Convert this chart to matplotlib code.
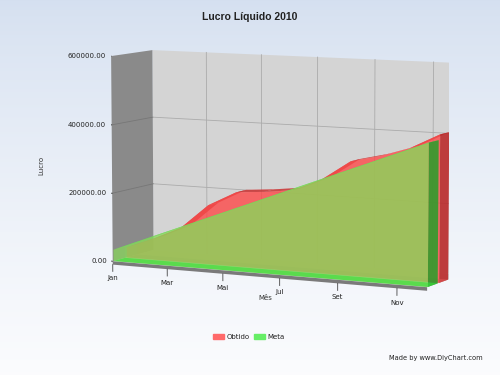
import numpy as np
import matplotlib.pyplot as plt
from mpl_toolkits.mplot3d.art3d import Poly3DCollection
from mpl_toolkits.mplot3d import proj3d

# dados
meses = ['Jan', 'Fev', 'Mar', 'Abr', 'Mai', 'Jun', 'Jul', 'Ago', 'Set', 'Out', 'Nov', 'Dez']
obtido = [30000, 62000, 100000, 172000, 215000, 222000, 232000, 268000, 325000, 345000, 372000, 415000]
meta = [33333, 66667, 100000, 133333, 166667, 200000, 233333, 266667, 300000, 333333, 366667, 400000]
tick_meses = ['Jan', 'Mar', 'Mai', 'Jul', 'Set', 'Nov']
valores_ticks = [0, 200000, 400000, 600000]

fig = plt.figure(figsize=(5, 3.75), dpi=100)

# fundo em degradê
bg = fig.add_axes([0, 0, 1, 1], zorder=-1)
grad = np.linspace(0, 1, 256) ** 0.8
top = np.array([0.835, 0.878, 0.941])
bot = np.array([0.985, 0.988, 0.995])
img = top[None, :] * (1 - grad[:, None]) + bot[None, :] * grad[:, None]
bg.imshow(img[:, None, :], aspect='auto', extent=[0, 1, 0, 1], origin='upper')
bg.axis('off')

ax = fig.add_axes([0.135, 0.1, 0.85, 0.9], projection='3d', computed_zorder=False)
ax.set_axis_off()
ax.patch.set_alpha(0)
n = len(meses)
xmax = n - 1
zmax = valores_ticks[-1]
ax.set_xlim(0, xmax)
ax.set_ylim(0, 1)
ax.set_zlim(0, zmax)
ax.set_box_aspect((11.7, 2.8, 7.0), zoom=1.2)
ax.set_proj_type('persp', focal_length=1.5)
ax.view_init(elev=7, azim=-63)


def poly(verts, fc, alpha=1.0, z=1):
    pc = Poly3DCollection([verts], facecolors=fc, edgecolors='none', linewidths=0, alpha=alpha)
    pc.set_zorder(z)
    ax.add_collection3d(pc)


# paredes
poly([(0, 1, 0), (xmax, 1, 0), (xmax, 1, zmax), (0, 1, zmax)], '#d4d4d4', z=1)
poly([(0, 0, 0), (0, 1, 0), (0, 1, zmax), (0, 0, zmax)], '#8a8a8a', z=1)
poly([(0, 0, 0), (xmax, 0, 0), (xmax, 1, 0), (0, 1, 0)], '#cdcdcd', z=1)
poly([(0, 0, -10000), (xmax, 0, -10000), (xmax, 0, 0), (0, 0, 0)], '#7a7a7a', z=1)

# grade
for i in range(2, n, 2):
    ax.plot([i, i], [1, 1], [0, zmax], color='#ababab', lw=0.6, zorder=2)
for v in valores_ticks[1:-1]:
    ax.plot([0, xmax], [1, 1], [v, v], color='#ababab', lw=0.6, zorder=2)
    ax.plot([0, 0], [0, 1], [v, v], color='#777777', lw=0.6, zorder=2)


def slab(vals, y0, y1, fc, topc, side, base, z):
    xs = list(range(n))
    front = [(x, y0, 0) for x in xs[::-1]] + [(x, y0, v) for x, v in zip(xs, vals)]
    back = [(x, y1, 0) for x in xs[::-1]] + [(x, y1, v) for x, v in zip(xs, vals)]
    poly(back, fc, 0.25, z)
    for i in range(n - 1):
        poly([(i, y0, vals[i]), (i + 1, y0, vals[i + 1]), (i + 1, y1, vals[i + 1]), (i, y1, vals[i])],
             topc, 0.85, z)
    poly([(xmax, y0, 0), (xmax, y1, 0), (xmax, y1, vals[-1]), (xmax, y0, vals[-1])], side, 0.85, z)
    poly(front, fc, 0.72, z)
    poly([(0, y0, 0), (xmax, y0, 0), (xmax, y1, 0), (0, y1, 0)], base, 0.6, z)


slab(obtido, 0.34, 0.6, '#ff4848', '#c83838', '#b82828', '#e05050', 4)
slab(meta, 0.02, 0.3, '#88d85a', '#58d858', '#2a9a2a', '#30e030', 5)

# eixos (textos em 2D a partir da projeção 3D)
M = ax.get_proj()


def txt(x, y, z, s, **kw):
    px, py, _ = proj3d.proj_transform(x, y, z, M)
    ax.text2D(px, py, s, transform=ax.transData, fontsize=5, color='#222222', zorder=7, **kw)


for i, lab in enumerate(meses):
    if lab in tick_meses:
        ax.plot([i, i], [0, 0], [-10000, -30000], color='#444444', lw=0.6, zorder=6)
        txt(i, 0, -50000, lab, ha='center', va='center')
for v in valores_ticks:
    ax.plot([0, -0.15], [0, 0], [v, v], color='#444444', lw=0.6, zorder=6)
    txt(-0.2, 0, v, '%.2f' % v, ha='right', va='center')

fig.text(0.5, 0.955, 'Lucro Líquido 2010', ha='center', va='center', fontsize=7.5,
         fontweight='bold', family='Liberation Sans', color='#222222')
fig.text(0.53, 0.205, 'Mês', ha='center', va='center', fontsize=5, color='#333333')
fig.text(0.082, 0.56, 'Lucro', ha='center', va='center', fontsize=5, rotation=90, color='#333333')

# legenda
fig.patches.append(plt.Rectangle((0.426, 0.096), 0.022, 0.013, transform=fig.transFigure,
                                 color='#ff6a6a', figure=fig))
fig.text(0.453, 0.1025, 'Obtido', fontsize=5, va='center', color='#222222')
fig.patches.append(plt.Rectangle((0.508, 0.096), 0.022, 0.013, transform=fig.transFigure,
                                 color='#66ee66', figure=fig))
fig.text(0.535, 0.1025, 'Meta', fontsize=5, va='center', color='#222222')
fig.text(0.966, 0.045, 'Made by www.DiyChart.com', fontsize=4.8, ha='right', va='center', color='#222222')

fig.savefig('out.png', dpi=100)
